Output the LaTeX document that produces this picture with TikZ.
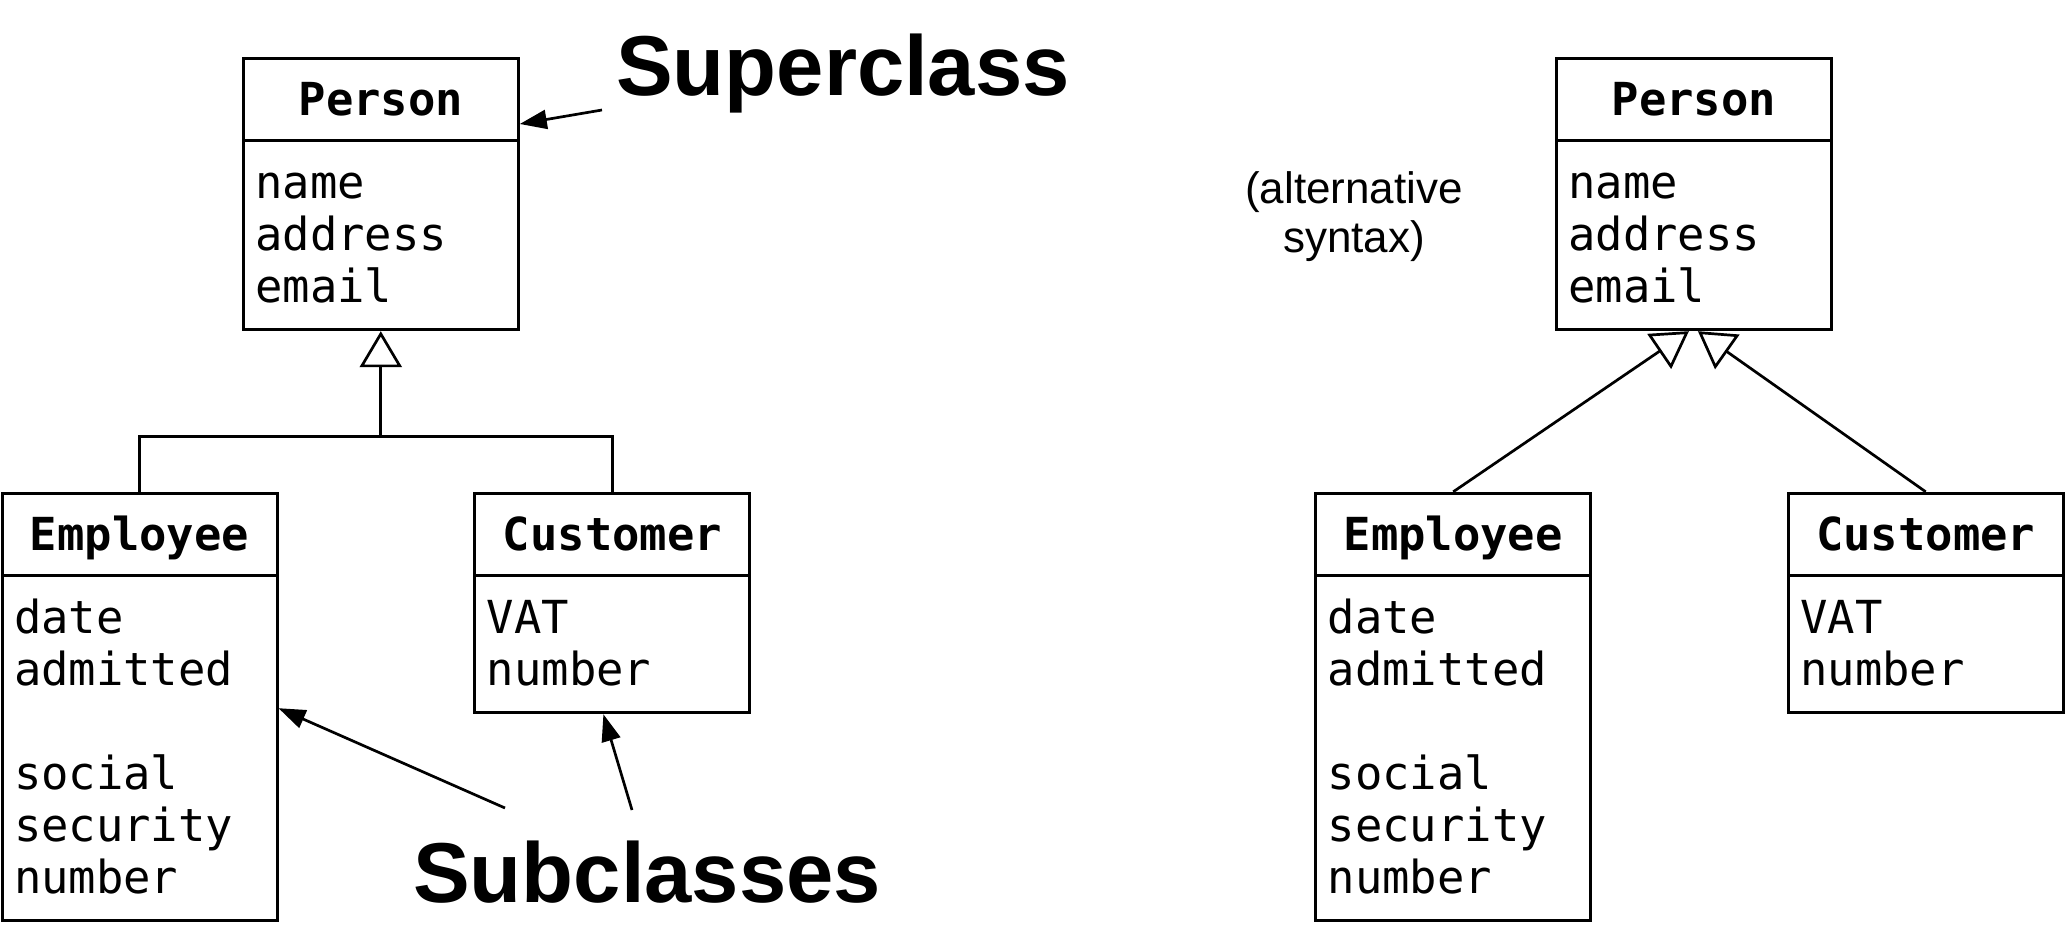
\documentclass[tikz,border=0pt]{standalone}
\usepackage{fontspec}
\usetikzlibrary{arrows.meta}
\newfontfamily\monof{DejaVu Sans Mono}
\newfontfamily\sansf{Liberation Sans}
\newcommand\mstrut{\rule[-11pt]{0pt}{52pt}}
\tikzset{
  hdr/.style={draw, line width=3pt, minimum width=275pt, minimum height=82.4pt, inner sep=0pt,
    font=\monof\bfseries\fontsize{45.5pt}{52pt}\selectfont, text height=32.5pt, text depth=0pt},
  body/.style={draw, line width=3pt, anchor=north, minimum width=275pt, inner xsep=12pt, inner ysep=16.5pt,
    text width=251pt, align=left, font=\monof\fontsize{45.5pt}{52pt}\selectfont},
  conn/.style={line width=2.7pt},
  inh/.style={conn, -{Triangle[open, length=36pt, width=42pt]}},
  pointer/.style={conn, -{Triangle[length=27pt, width=19pt]}},
  biglabel/.style={anchor=base west, inner sep=0pt, font=\sansf\bfseries\fontsize{85pt}{95pt}\selectfont},
}
\begin{document}
\begin{tikzpicture}[x=1pt, y=-1pt]
\useasboundingbox (0,0) rectangle (2066,941);
% left diagram
\node[hdr] (p1h) at (380.8,99.5) {Person};
\node[body] (p1b) at ([yshift=3pt]p1h.south) {\mstrut name\\\mstrut address\\\mstrut email};
\node[hdr] (e1h) at (139.5,534.5) {Employee};
\node[body] (e1b) at ([yshift=3pt]e1h.south) {\mstrut date\\\mstrut admitted\\\mstrut\\\mstrut social\\\mstrut security\\\mstrut number};
\node[hdr] (c1h) at (612.4,534.5) {Customer};
\node[body] (c1b) at ([yshift=3pt]c1h.south) {\mstrut VAT\\\mstrut number};
\coordinate (j1) at (380.8,436.7);
\draw[conn] (e1h.north) -- (e1h.north |- j1) -- (c1h.north |- j1) -- (c1h.north);
\draw[inh] (j1) -- (p1b.south);
\node[biglabel] (sup) at (616,96) {Superclass};
\node[biglabel] (sub) at (413,902) {Subclasses};
\draw[pointer] ([shift={(-14pt,-14pt)}]sup.base west) -- ([yshift=-24.5pt]p1h.east);
\draw[pointer] ([shift={(92pt,94pt)}]sub.base west) -- ([yshift=40pt]e1b.east);
\draw[pointer] ([shift={(219pt,92pt)}]sub.base west) -- ([xshift=-9pt]c1b.south);
% right diagram
\node[hdr] (p2h) at (1693.9,99.5) {Person};
\node[body] (p2b) at ([yshift=3pt]p2h.south) {\mstrut name\\\mstrut address\\\mstrut email};
\node[hdr] (e2h) at (1453.2,534.5) {Employee};
\node[body] (e2b) at ([yshift=3pt]e2h.south) {\mstrut date\\\mstrut admitted\\\mstrut\\\mstrut social\\\mstrut security\\\mstrut number};
\node[hdr] (c2h) at (1925.7,534.5) {Customer};
\node[body] (c2b) at ([yshift=3pt]c2h.south) {\mstrut VAT\\\mstrut number};
\draw[inh] (e2h.north) -- ([xshift=-5pt]p2b.south);
\draw[inh] (c2h.north) -- ([xshift=4pt]p2b.south);
\node[align=center, inner sep=0pt, font=\sansf\fontsize{44pt}{49pt}\selectfont] (alt) at (1354,216.5) {(alternative\\syntax)};
\end{tikzpicture}
\end{document}
